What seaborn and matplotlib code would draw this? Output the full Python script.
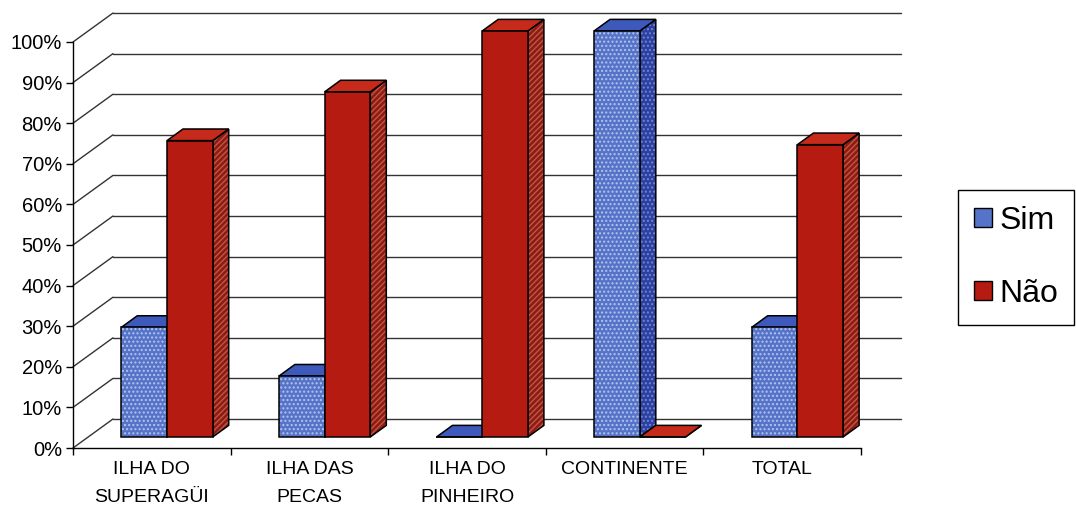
import matplotlib
matplotlib.use('Agg')
import matplotlib.pyplot as plt
import matplotlib.transforms as mtransforms
from matplotlib.patches import Polygon, Patch
import pandas as pd
import seaborn as sns

# dados
locais = ['ILHA DO\nSUPERAGÜI', 'ILHA DAS\nPECAS', 'ILHA DO\nPINHEIRO', 'CONTINENTE', 'TOTAL']
respostas = ['Sim', 'Não']
sim = [27, 15, 0, 100, 27]
nao = [73, 85, 100, 0, 72]
y_ticks = list(range(0, 101, 10))

df = pd.DataFrame({
    'local': locais * 2,
    'resposta': ['Sim'] * len(locais) + ['Não'] * len(locais),
    'pct': sim + nao,
})

sns.set_style('white')
plt.rcParams['font.family'] = ['Liberation Sans', 'DejaVu Sans']
plt.rcParams['hatch.linewidth'] = 1.0
plt.rcParams['text.color'] = 'black'

W, H = 1076, 512
fig = plt.figure(figsize=(W / 100, H / 100), dpi=100)
ax = fig.add_axes([73 / W, 64 / H, 788 / W, 406 / H])

# cores: face frontal, lateral, topo, hachura
cores = {
    'Sim': dict(front='#5573c8', side='#2c40a0', top='#3d59bc', hatch='....', hcolor='#b4c4ec',
                side_hatch='....', side_hcolor='#6f86d2'),
    'Não': dict(front='#b51b10', side='#8c1c12', top='#c62a1b', hatch=None, hcolor=None,
                side_hatch='//////', side_hcolor='#c25545'),
}

sns.barplot(data=df, x='local', y='pct', hue='resposta', hue_order=respostas,
            palette=[cores[r]['front'] for r in respostas], saturation=1,
            width=0.58, legend=False, ax=ax)
ax.set_xlim(-0.5, len(locais) - 0.5)
ax.set_ylim(0, 100)

# perspectiva obliqua (pixels por unidade de profundidade)
DX, DY = 40, 29
d0, d1 = 0.38, 0.78


def proj(x, y, d):
    px, py = ax.transData.transform((x, y))
    return (px + DX * d, py + DY * d)


ident = mtransforms.IdentityTransform()

# parede do fundo e parede lateral
for t in y_ticks:
    a = proj(-0.5, t, 1)
    b = proj(len(locais) - 0.5, t, 1)
    ax.plot([a[0], b[0]], [a[1], b[1]], color='#333333', lw=1, transform=ident,
            clip_on=False, zorder=1)
    c = proj(-0.5, t, 0)
    ax.plot([c[0], a[0]], [c[1], a[1]], color='#333333', lw=1, transform=ident,
            clip_on=False, zorder=1)

front_tr = mtransforms.offset_copy(ax.transData, fig=fig, x=DX * d0, y=DY * d0, units='dots')

for h, (resp, cont) in enumerate(zip(respostas, ax.containers)):
    st = cores[resp]
    for c, bar in enumerate(cont.patches):
        z = 2 + 0.1 * (2 * c + h)
        x0 = bar.get_x()
        x1 = x0 + bar.get_width()
        v = bar.get_height()
        side = [proj(x1, 0, d0), proj(x1, v, d0), proj(x1, v, d1), proj(x1, 0, d1)]
        top = [proj(x0, v, d0), proj(x1, v, d0), proj(x1, v, d1), proj(x0, v, d1)]
        ax.add_patch(Polygon(side, closed=True, facecolor=st['side'], edgecolor=st['side_hcolor'],
                             lw=0, hatch=st['side_hatch'], transform=ident, clip_on=False, zorder=z))
        ax.add_patch(Polygon(side, closed=True, fill=False, edgecolor='black', lw=1.1,
                             transform=ident, clip_on=False, zorder=z + 0.01))
        ax.add_patch(Polygon(top, closed=True, facecolor=st['top'], edgecolor='black', lw=1.1,
                             transform=ident, clip_on=False, zorder=z + 0.02))
        # face frontal (barra do seaborn deslocada em profundidade)
        bar.set_transform(front_tr)
        bar.set_clip_on(False)
        bar.set_zorder(z + 0.03)
        bar.set_linewidth(0)
        if st['hatch']:
            bar.set_edgecolor(st['hcolor'])
            bar.set_hatch(st['hatch'])
        front = [proj(x0, 0, d0), proj(x1, 0, d0), proj(x1, v, d0), proj(x0, v, d0)]
        ax.add_patch(Polygon(front, closed=True, fill=False, edgecolor='black', lw=1.1,
                             transform=ident, clip_on=False, zorder=z + 0.04))

# eixos
for s in ['top', 'right']:
    ax.spines[s].set_visible(False)
for s in ['left', 'bottom']:
    ax.spines[s].set_color('black')
    ax.spines[s].set_linewidth(1)
ax.set_xlabel('')
ax.set_ylabel('')
ax.set_yticks(y_ticks, [f'{t}%' for t in y_ticks])
ax.set_xticks(range(len(locais)), locais)
ax.set_xticks([i - 0.5 for i in range(len(locais) + 1)], minor=True)
ax.tick_params(axis='y', left=True, direction='out', length=5, width=1, color='black',
               labelsize=14.5, labelcolor='black', pad=3)
ax.tick_params(axis='x', which='major', bottom=True, length=0, labelsize=14,
               labelcolor='black', pad=9)
ax.tick_params(axis='x', which='minor', bottom=True, direction='out', length=5, width=1,
               color='black')
for lab in ax.get_xticklabels():
    lab.set_linespacing(1.85)

handles = [Patch(facecolor=cores[r]['front'], edgecolor='black', label=r) for r in respostas]
leg = fig.legend(handles=handles, loc='upper left', bbox_to_anchor=(958 / W, 1 - 190 / H),
                 frameon=True, fancybox=False, framealpha=1, edgecolor='black', fontsize=23,
                 handlelength=0.55, handleheight=0.55, handletextpad=0.25, labelspacing=1.35,
                 borderpad=0.5, borderaxespad=0)
leg.get_frame().set_linewidth(1)
for t in leg.get_texts():
    t.set_color('black')

fig.savefig('out.png', dpi=100)
